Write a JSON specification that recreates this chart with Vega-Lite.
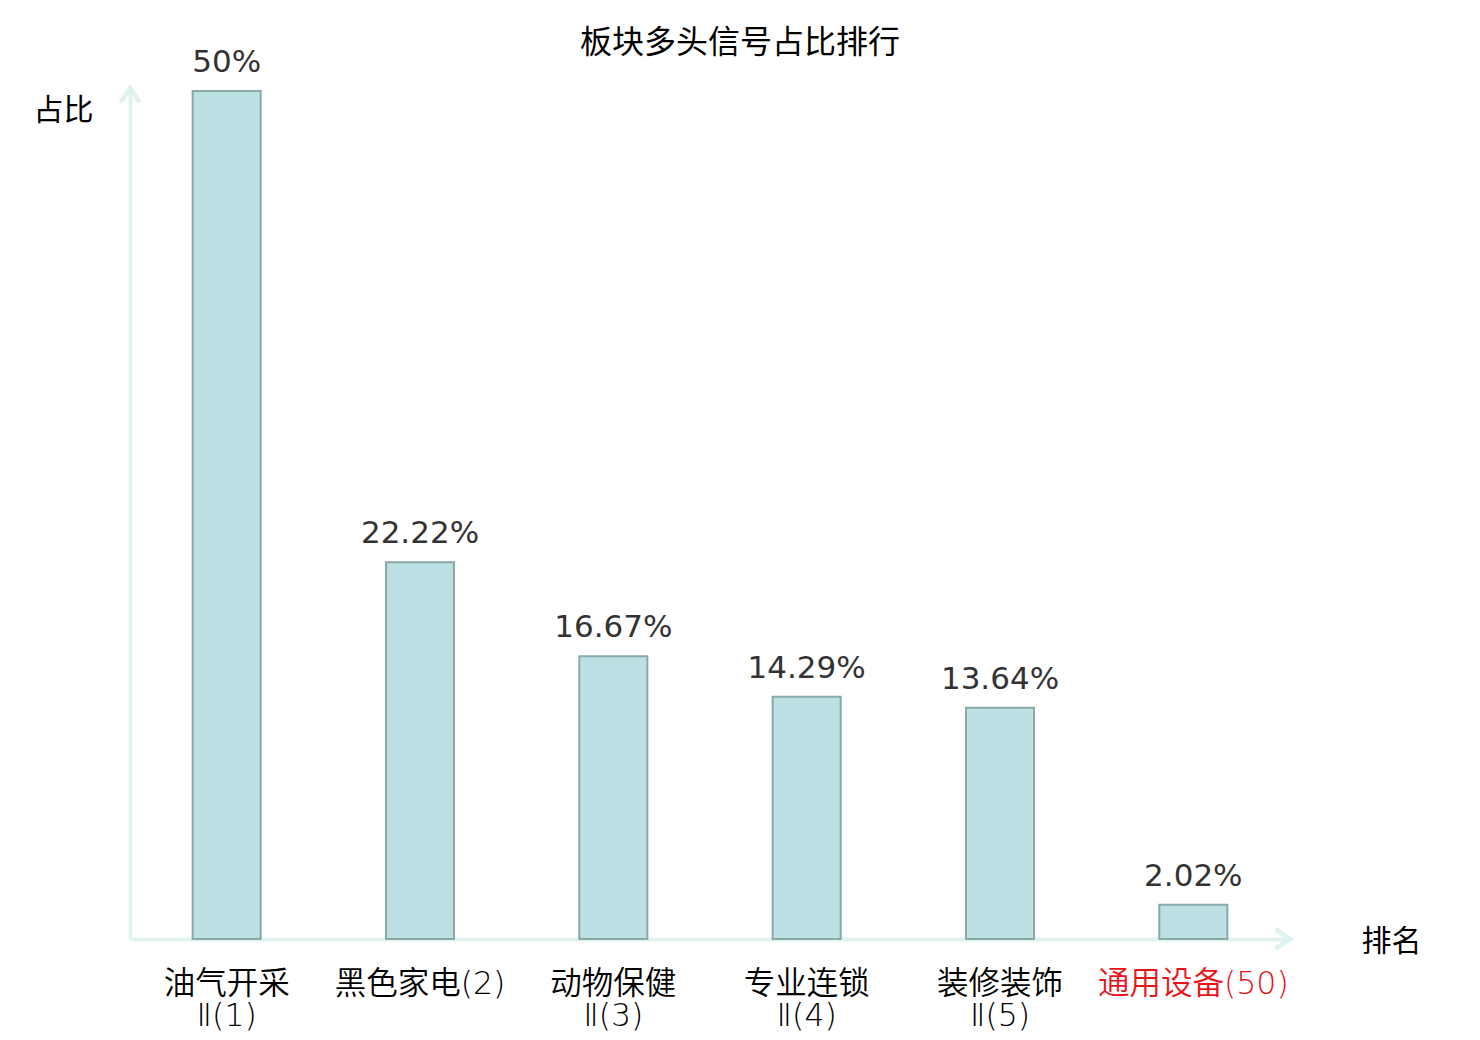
{
  "$schema": "https://vega.github.io/schema/vega-lite/v6.json",
  "autosize": "none",
  "padding": {"left": 130, "top": 88, "right": 190, "bottom": 101},
  "width": 1160,
  "height": 851,
  "background": "white",
  "title": {
    "text": "板块多头信号占比排行",
    "font": "Noto Sans CJK SC",
    "fontSize": 32,
    "fontWeight": "normal",
    "color": "#000000",
    "anchor": "middle",
    "dx": 30,
    "dy": 43,
    "offset": 30
  },
  "data": {
    "values": [
      {"name": "油气开采Ⅱ(1)", "value": 50, "label": "50%"},
      {"name": "黑色家电(2)", "value": 22.22, "label": "22.22%"},
      {"name": "动物保健Ⅱ(3)", "value": 16.67, "label": "16.67%"},
      {"name": "专业连锁Ⅱ(4)", "value": 14.29, "label": "14.29%"},
      {"name": "装修装饰Ⅱ(5)", "value": 13.64, "label": "13.64%"},
      {"name": "通用设备(50)", "value": 2.02, "label": "2.02%"}
    ]
  },
  "encoding": {
    "x": {
      "field": "name",
      "type": "nominal",
      "sort": null,
      "scale": {"paddingInner": 0.648, "paddingOuter": 0.324},
      "axis": {
        "title": "排名",
        "titleFont": "Noto Sans CJK SC",
        "titleFontSize": 30,
        "titleFontWeight": "normal",
        "titleColor": "#000000",
        "titleX": 1261,
        "titleY": 2,
        "titleAlign": "center",
        "titleBaseline": "middle",
        "labelAngle": 0,
        "labelFont": "DejaVu Sans, Noto Sans CJK SC",
        "labelFontWeight": 350,
        "labelFontSize": 31.5,
        "labelLineHeight": 32,
        "labelPadding": 29,
        "labelLimit": 0,
        "labelColor": {
          "condition": {"test": "datum.value == '通用设备(50)'", "value": "#e8141a"},
          "value": "#000000"
        },
        "labelExpr": "indexof(datum.label, 'Ⅱ') > 0 ? [slice(datum.label, 0, indexof(datum.label, 'Ⅱ')), slice(datum.label, indexof(datum.label, 'Ⅱ'))] : datum.label",
        "ticks": false,
        "domainColor": "#e0f3f0",
        "domainWidth": 4
      }
    }
  },
  "layer": [
    {
      "mark": {"type": "bar", "fill": "#bce0e3", "stroke": "#8aa9a9", "strokeWidth": 2},
      "encoding": {
        "y": {
          "field": "value",
          "type": "quantitative",
          "scale": {"domain": [0, 50.18], "nice": false},
          "axis": {
            "title": "占比",
            "titleFont": "Noto Sans CJK SC",
            "titleFontSize": 30,
            "titleFontWeight": "normal",
            "titleColor": "#000000",
            "titleAngle": 0,
            "titleAlign": "left",
            "titleBaseline": "middle",
            "titleX": -97,
            "titleY": 22,
            "labels": false,
            "ticks": false,
            "grid": false,
            "domainColor": "#e0f3f0",
            "domainWidth": 4
          }
        }
      }
    },
    {
      "mark": {
        "type": "text",
        "font": "DejaVu Sans",
        "fontSize": 31,
        "color": "#333333",
        "baseline": "alphabetic",
        "dy": -19
      },
      "encoding": {
        "y": {"field": "value", "type": "quantitative"},
        "text": {"field": "label"}
      }
    },
    {
      "mark": {
        "type": "point",
        "shape": "M-1,1.5L0,0L1,1.5",
        "filled": false,
        "stroke": "#e0f3f0",
        "strokeWidth": 4,
        "size": 361,
        "opacity": 1
      },
      "encoding": {
        "x": {"value": 0},
        "y": {"datum": 50.18, "type": "quantitative"}
      }
    },
    {
      "mark": {
        "type": "point",
        "shape": "M-1.5,-1L0,0L-1.5,1",
        "filled": false,
        "stroke": "#e0f3f0",
        "strokeWidth": 4,
        "size": 361,
        "opacity": 1
      },
      "encoding": {
        "x": {"value": "width"},
        "y": {"datum": 0, "type": "quantitative"}
      }
    }
  ],
  "config": {"view": {"stroke": null}}
}
